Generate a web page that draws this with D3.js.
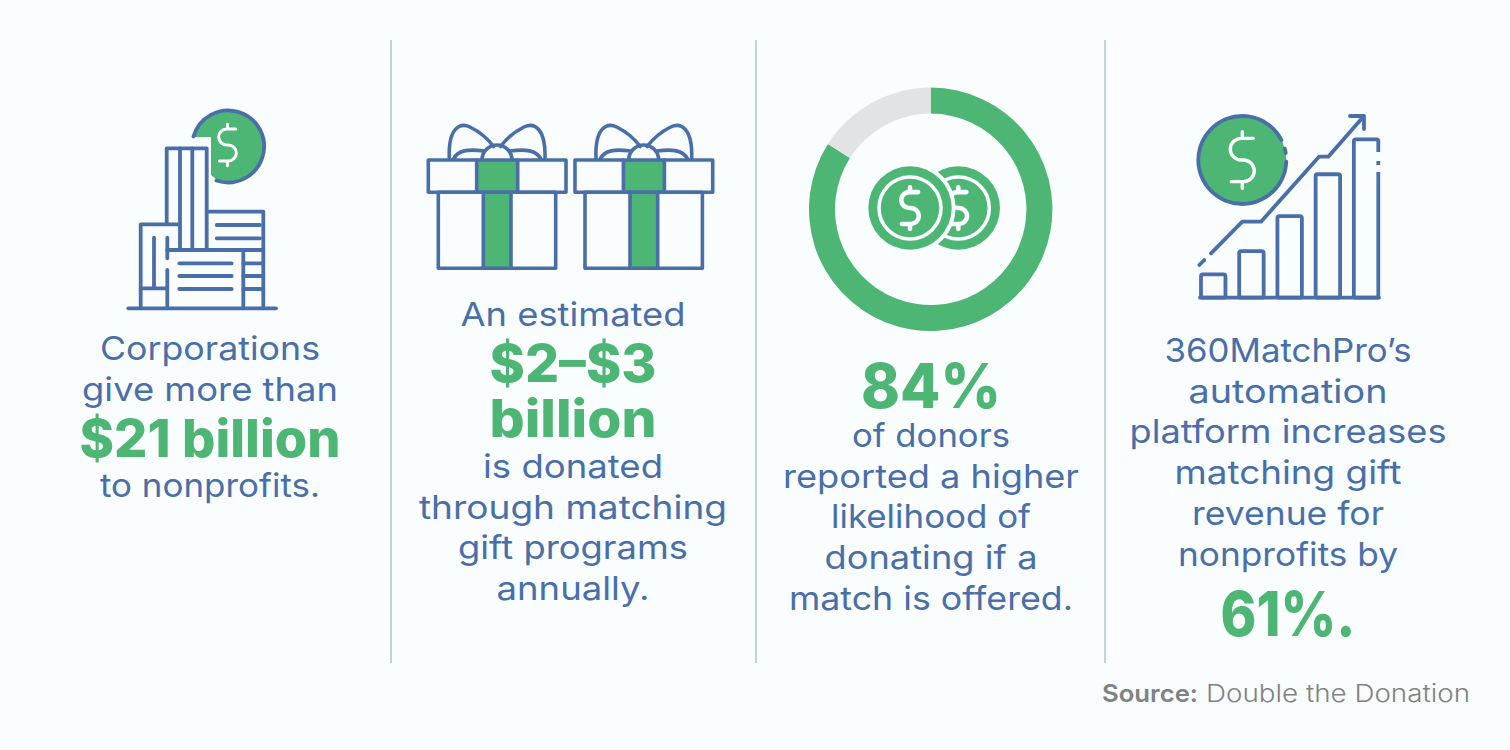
<!DOCTYPE html>
<html>
<head>
<meta charset="utf-8">
<script src="https://cdn.jsdelivr.net/npm/d3@7"></script>
<style>
  html, body { margin: 0; padding: 0; background: #f9fdfe; }
  svg { display: block; }
  text { font-family: Inter, "Noto Sans", sans-serif; }
</style>
</head>
<body>
<div id="chart"></div>
<script>
// The copy of each column, line by line
const col1Lines = ["Corporations", "give more than", "$21 billion", "to nonprofits."];
const col2Lines = ["An estimated", "$2–$3", "billion", "is donated", "through matching", "gift programs", "annually."];
const col3Lines = ["84%", "of donors", "reported a higher", "likelihood of", "donating if a", "match is offered."];
const col4Lines = ["360MatchPro’s", "automation", "platform increases", "matching gift", "revenue for", "nonprofits by", "61%."];
const boldLines = ["$21 billion", "$2–$3", "billion"];
const bigLines = ["84%", "61%."];
const sourceLabel = "Source:";
const sourceName = "Double the Donation";

// Donut: share of donors
const donutLabels = ["more likely", "other"];
const donutValues = [84, 16];

// Bars of the growth icon, relative heights
const growthBars = ["a", "b", "c", "d", "e"];
const growthValues = [1, 2, 3.5, 5.3, 6.8];

// Colours
const blue = "#4a6fa8";
const green = "#4db674";
const grey = "#e2e3e5";
const bg = "#f9fdfe";

const svg = d3.select("#chart")
  .append("svg")
  .attr("width", 1510)
  .attr("height", 750);

svg.append("rect").attr("width", 1510).attr("height", 750).attr("fill", bg);

// Dividers
[391, 756, 1105].forEach(function (x) {
  svg.append("line")
    .attr("x1", x).attr("x2", x)
    .attr("y1", 40).attr("y2", 663)
    .attr("stroke", "#c3d0e3")
    .attr("stroke-width", 2);
});

// Text columns: center x, baselines and target widths
function drawColumn(lines, cx, baselines, widths) {
  svg.append("g")
    .selectAll("text")
    .data(lines)
    .join("text")
    .attr("x", cx)
    .attr("y", function (d, i) { return baselines[i]; })
    .attr("text-anchor", "middle")
    .attr("fill", function (d) { return boldLines.includes(d) || bigLines.includes(d) ? green : blue; })
    .attr("font-size", function (d) {
      if (bigLines.includes(d)) return 62;
      return boldLines.includes(d) ? 52 : 33;
    })
    .attr("font-weight", function (d) {
      return boldLines.includes(d) || bigLines.includes(d) ? 800 : 400;
    })
    .attr("textLength", function (d, i) { return widths[i]; })
    .attr("lengthAdjust", "spacingAndGlyphs")
    .text(function (d) { return d; });
}

drawColumn(col1Lines, 210, [360, 401, 457, 497], [220, 256, 261, 220]);
drawColumn(col2Lines, 573, [326, 382, 437, 478, 519, 559, 600], [225, 167, 167, 180, 308, 230, 153]);
drawColumn(col3Lines, 931, [407.5, 447, 488, 528, 569, 610], [140, 158, 296, 200, 213, 284]);
drawColumn(col4Lines, 1288, [362, 403, 443, 484, 525, 566, 636], [247, 199, 317, 227, 192, 220, 135]);

// Source line
svg.append("text")
  .attr("x", 1102).attr("y", 702)
  .attr("fill", "#818181").attr("font-size", 24).attr("font-weight", 600)
  .attr("textLength", 96).attr("lengthAdjust", "spacingAndGlyphs")
  .text(sourceLabel);
svg.append("text")
  .attr("x", 1206).attr("y", 702)
  .attr("fill", "#818181").attr("font-size", 24).attr("font-weight", 300)
  .attr("textLength", 264).attr("lengthAdjust", "spacingAndGlyphs")
  .text(sourceName);

// Dollar sign drawn as a stroke, s scales it
function dollar(parent, cx, cy, s, color, width) {
  parent.append("path")
    .attr("transform", "translate(" + cx + "," + cy + ") scale(" + s + ")")
    .attr("d", "M33 -65 L-3 -65 A33 32.5 0 0 0 -3 0 L3 0 A33 32.5 0 0 1 3 65 L-33 65 M0 -85 V-65 M0 65 V85")
    .attr("fill", "none")
    .attr("stroke", color)
    .attr("stroke-width", width / s)
    .attr("stroke-linecap", "round");
}

function stroked(parent, width) {
  return parent.append("g")
    .attr("fill", "none")
    .attr("stroke", blue)
    .attr("stroke-width", width)
    .attr("stroke-linecap", "round")
    .attr("stroke-linejoin", "round");
}

// ---- Building icon ----
const building = svg.append("g");
building.append("path")
  .attr("d", "M193.5 137 A36 36 0 1 1 216 179 L211 175 L211 137 Z")
  .attr("fill", green);
dollar(building, 227.5, 145, 0.245, bg, 3);
const bLines = stroked(building, 3.8);
bLines.append("path").attr("d", "M193.5 136.5 A36 36 0 1 1 216.5 180.5");
[
  "M166.7 223 V148.3 H206.7 V250",
  "M180 148.3 V250 M192.3 148.3 V250",
  "M206.7 211.7 H263.3 V308.3",
  "M216.7 225 H260 M216.7 238.3 H260",
  "M140.7 308.3 V224.3 H178.3",
  "M154 237.7 V288.3 M167.3 237.7 V258.3 M167.3 270 V308.3 M140.7 288.3 H167.3",
  "M167.3 250 H263.3 M243.3 250 V308.3",
  "M179.3 263.3 H231.7 M179.3 276 H231.7 M179.3 289 H231.7",
  "M243.3 263.3 H263.3 M243.3 276 H263.3 M243.3 289 H263.3",
  "M128.3 308.3 H276"
].forEach(function (d) { bLines.append("path").attr("d", d); });

// ---- Gift icons ----
function gift(dx) {
  const g = svg.append("g").attr("transform", "translate(" + dx + ",0)");
  g.append("rect").attr("x", 476.7).attr("y", 160).attr("width", 41).attr("height", 32.3).attr("fill", green);
  g.append("rect").attr("x", 483.3).attr("y", 192.3).attr("width", 27.7).attr("height", 76).attr("fill", green);
  const s = stroked(g, 3.6);
  [
    "M449.3 158.5 C448 128 460 122 470 127 C478 131 488 139 493.5 146.5",
    "M545 158.5 C546 128 534 122 524 127 C516 131 506 139 500.5 146.5",
    "M453.5 159 C458 150 468 149 484 151",
    "M541 159 C536 150 526 149 510 151",
    "M482 160 A15 15 0 0 1 512 160"
  ].forEach(function (d) { s.append("path").attr("d", d); });
  s.append("rect").attr("x", 428.3).attr("y", 160).attr("width", 137.7).attr("height", 32.3);
  s.append("path").attr("d", "M476.7 160 V192.3 M517.7 160 V192.3");
  s.append("rect").attr("x", 438.3).attr("y", 192.3).attr("width", 117.4).attr("height", 76);
  s.append("path").attr("d", "M483.3 192.3 V268.3 M511 192.3 V268.3");
}
gift(0);
gift(146.7);

// ---- Donut ----
const pie = d3.pie().sort(null)(donutValues);
const arc = d3.arc().innerRadius(95.7).outerRadius(121.7);
svg.append("g")
  .attr("transform", "translate(930.7,209.3)")
  .selectAll("path")
  .data(pie)
  .join("path")
  .attr("class", function (d, i) { return "slice " + donutLabels[i].replace(" ", "-"); })
  .attr("d", arc)
  .attr("fill", function (d, i) { return i === 0 ? green : grey; });

function coin(cx, cy) {
  svg.append("circle").attr("cx", cx).attr("cy", cy).attr("r", 45.5).attr("fill", bg);
  svg.append("circle").attr("cx", cx).attr("cy", cy).attr("r", 41.7).attr("fill", green);
  svg.append("circle").attr("cx", cx).attr("cy", cy).attr("r", 31).attr("fill", "none")
    .attr("stroke", bg).attr("stroke-width", 3.6);
  dollar(svg, cx, cy, 0.245, bg, 4.6);
}
coin(958.3, 208);
coin(910, 208);

// ---- Growth icon ----
const growth = svg.append("g");
const coinCx = 1242.3, coinCy = 160, coinR = 44;
growth.append("circle").attr("cx", coinCx).attr("cy", coinCy).attr("r", coinR).attr("fill", green);
dollar(growth, coinCx, coinCy, 1 / 3, bg, 3.4);

const ringLines = stroked(growth, 3.8);
const ring = d3.arc().innerRadius(coinR).outerRadius(coinR);
// angles are clockwise from 12 o'clock, in degrees
[[92, 423], [75, 81]].forEach(function (a) {
  ringLines.append("path")
    .attr("transform", "translate(" + coinCx + "," + coinCy + ")")
    .attr("stroke-linecap", "butt")
    .attr("d", ring({ startAngle: a[0] * Math.PI / 180, endAngle: a[1] * Math.PI / 180 }));
});

const xBars = d3.scaleBand().domain(growthBars).range([1201, 1378.3]).paddingInner(0.36);
const yBars = d3.scaleLinear().domain([0, 6.8]).range([297.7, 139.3]);
const gLines = stroked(growth, 3.8);
gLines.selectAll("rect")
  .data(growthValues)
  .join("rect")
  .attr("x", function (d, i) { return xBars(growthBars[i]); })
  .attr("y", function (d) { return yBars(d); })
  .attr("width", xBars.bandwidth())
  .attr("height", function (d) { return yBars(0) - yBars(d); })
  .attr("rx", 2);

// gaps in the tallest bar
[[152, 9], [165, 7]].forEach(function (g) {
  growth.append("rect").attr("x", 1375).attr("y", g[0]).attr("width", 6).attr("height", g[1]).attr("fill", bg);
});

const gLines2 = stroked(growth, 3.8);
gLines2.append("path").attr("d", "M1200 297.7 H1379");
gLines2.append("path").attr("d", "M1211 253.3 L1242.3 221.7 H1261 L1319 156.7 H1328.3 L1363.3 116.7");
gLines2.append("path").attr("d", "M1199.3 265 L1204.3 260");
gLines2.append("path").attr("d", "M1350 116 H1364 V129");
</script>
</body>
</html>
